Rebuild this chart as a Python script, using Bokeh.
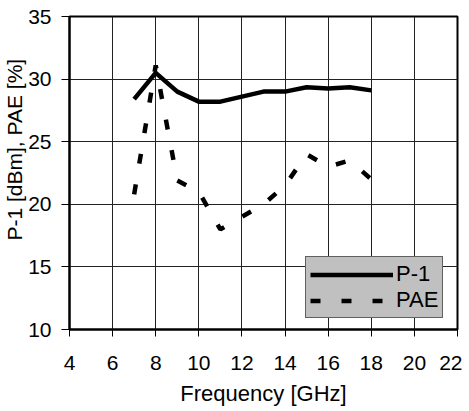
from bokeh.plotting import figure
from bokeh.models import Range1d, FixedTicker, Legend, LegendItem, Title
from bokeh.embed import file_html
from bokeh.resources import INLINE

freq = [7, 8, 9, 10, 11, 12, 13, 14, 15, 16, 17, 18]
p1 = [28.4, 30.5, 29.0, 28.2, 28.2, 28.6, 29.0, 29.0, 29.35, 29.25, 29.35, 29.1]
pae = [20.8, 31.1, 21.9, 21.0, 18.0, 19.0, 20.0, 21.5, 24.0, 23.0, 23.5, 22.0]
x_ticks = [4, 6, 8, 10, 12, 14, 16, 18, 20, 22]
y_ticks = [10, 15, 20, 25, 30, 35]

FONT = "Liberation Sans"

p = figure(frame_width=388, frame_height=313, output_backend="svg",
           toolbar_location=None, min_border_left=68, min_border_right=5,
           min_border_top=16, min_border_bottom=74,
           x_range=Range1d(4, 22), y_range=Range1d(10, 35))

p.outline_line_color = "black"
p.outline_line_width = 2
p.background_fill_color = "white"
p.border_fill_color = "white"

for ax in (p.xaxis[0], p.yaxis[0]):
    ax.axis_line_color = "black"
    ax.axis_line_width = 2
    ax.major_tick_line_color = "black"
    ax.major_tick_line_width = 1
    ax.major_tick_in = 0
    ax.minor_tick_line_color = None
    ax.major_label_text_font = FONT
    ax.major_label_text_font_size = "21px"
    ax.major_label_text_color = "black"

p.xaxis.ticker = FixedTicker(ticks=x_ticks)
p.yaxis.ticker = FixedTicker(ticks=y_ticks)
p.xaxis.major_tick_out = 7
p.yaxis.major_tick_out = 8
p.xaxis.major_label_standoff = 19
p.yaxis.major_label_standoff = 10

p.xaxis.axis_label = "Frequency [GHz]"
p.xaxis.axis_label_text_font = FONT
p.xaxis.axis_label_text_font_size = "22px"
p.xaxis.axis_label_text_font_style = "normal"
p.xaxis.axis_label_text_color = "black"
p.xaxis.axis_label_standoff = 8

p.xgrid.ticker = FixedTicker(ticks=x_ticks)
p.ygrid.ticker = FixedTicker(ticks=y_ticks)
p.grid.grid_line_color = "#222222"
p.grid.grid_line_width = 1

r1 = p.line(freq, p1, line_color="black", line_width=4.5, line_join="round")
r2 = p.line(freq, pae, line_color="black", line_width=4.5, line_dash="10 21")

ylab = Title(text="P-1 [dBm], PAE [%]", align="left", offset=89,
             text_font=FONT, text_font_size="21px", text_font_style="normal",
             text_color="black", standoff=0)
p.add_layout(ylab, "left")

legend = Legend(items=[LegendItem(label="P-1", renderers=[r1]),
                       LegendItem(label="PAE", renderers=[r2])],
                location=(236, 11))
legend.background_fill_color = "#c0c0c0"
legend.background_fill_alpha = 1
legend.border_line_color = "black"
legend.border_line_width = 1
legend.padding = 4
legend.margin = 0
legend.spacing = 0
legend.glyph_width = 83
legend.glyph_height = 23
legend.label_height = 23
legend.label_standoff = 3
legend.label_text_font = FONT
legend.label_text_font_size = "22px"
legend.label_text_color = "black"
p.add_layout(legend)

open("out.html", "w").write(file_html(p, INLINE))
